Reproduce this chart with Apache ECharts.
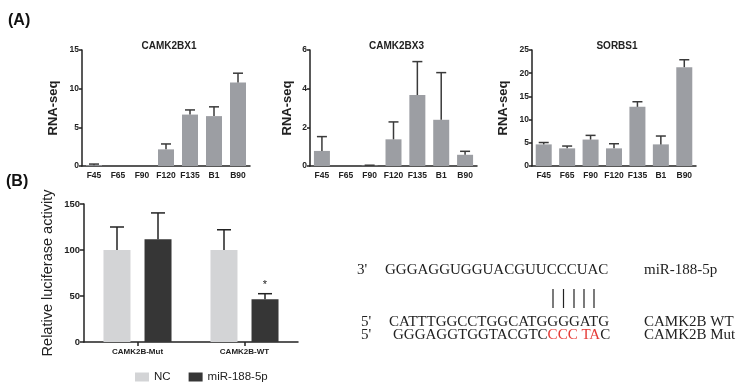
<!DOCTYPE html>
<html>
<head>
<meta charset="UTF-8">
<title>CAMK2B RNA-seq and luciferase</title>
<script src="https://cdn.jsdelivr.net/npm/echarts/dist/echarts.min.js"></script>
<style>
  html, body { margin: 0; padding: 0; background: #fff; }
  #main { width: 745px; height: 389px; }
</style>
</head>
<body>
<div id="main"></div>
<script type="text/javascript">
// ---- data ----
var samples = ['F45', 'F65', 'F90', 'F120', 'F135', 'B1', 'B90'];
var x1Mean = [0.1, 0, 0, 2.15, 6.65, 6.45, 10.8];
var x1Sd = [0.15, 0, 0, 0.7, 0.6, 1.2, 1.2];
var x3Mean = [0.78, 0, 0.02, 1.38, 3.67, 2.39, 0.58];
var x3Sd = [0.74, 0, 0.02, 0.9, 1.73, 2.44, 0.18];
var sorbsMean = [4.66, 3.8, 5.7, 3.8, 12.75, 4.66, 21.3];
var sorbsSd = [0.4, 0.5, 0.9, 1.0, 1.1, 1.8, 1.6];

var constructs = ['CAMK2B-Mut', 'CAMK2B-WT'];
var ncMean = [100, 100];
var ncSd = [25, 22];
var mirMean = [111.8, 46.5];
var mirSd = [28.5, 6];
var mirSig = ['', '*'];

var panels = [
  { title: 'CAMK2BX1', mean: x1Mean, sd: x1Sd, max: 15, step: 5, left: 82, width: 168, gap: 22 },
  { title: 'CAMK2BX3', mean: x3Mean, sd: x3Sd, max: 6, step: 2, left: 310, width: 167, gap: 16 },
  { title: 'SORBS1', mean: sorbsMean, sd: sorbsSd, max: 25, step: 5, left: 532, width: 164, gap: 22 }
];

var chart = echarts.init(document.getElementById('main'));
var sans = 'Liberation Sans, Arial, sans-serif';
var serif = 'Liberation Serif, Times New Roman, serif';
var axisCol = '#222';

function errRender(color, offset, capW, sig) {
  return function (params, api) {
    var i = api.value(0), m = api.value(1), s = api.value(2);
    var base = api.coord([i, m]);
    var top = api.coord([i, m + s]);
    var x = base[0] + offset;
    var kids = [];
    if (s > 0) {
      kids.push({ type: 'line', shape: { x1: x, y1: base[1], x2: x, y2: top[1] },
        style: { stroke: color, lineWidth: 1.5 } });
      kids.push({ type: 'line', shape: { x1: x - capW / 2, y1: top[1], x2: x + capW / 2, y2: top[1] },
        style: { stroke: color, lineWidth: 1.5 } });
    }
    if (sig && sig[i]) {
      kids.push({ type: 'text', style: { text: sig[i], x: x, y: top[1] - 3, align: 'center',
        verticalAlign: 'bottom', font: '11px ' + sans, fill: '#222' } });
    }
    return { type: 'group', children: kids };
  };
}

var grids = [], xAxes = [], yAxes = [], series = [], titles = [];

panels.forEach(function (p, k) {
  grids.push({ left: p.left, top: 50, width: p.width, height: 116 });
  titles.push({ text: p.title, left: p.left + p.width / 2 - 2, top: 36, textAlign: 'center',
    textStyle: { fontFamily: sans, fontSize: 10, fontWeight: 'bold', color: '#222' } });
  xAxes.push({ type: 'category', gridIndex: k, data: samples,
    axisLine: { lineStyle: { color: axisCol, width: 1.5 } },
    axisTick: { show: false },
    axisLabel: { fontFamily: sans, fontSize: 8.5, fontWeight: 'bold', color: '#222', margin: 5, interval: 0 } });
  yAxes.push({ type: 'value', gridIndex: k, min: 0, max: p.max, interval: p.step,
    name: 'RNA-seq', nameLocation: 'middle', nameGap: p.gap, nameRotate: 90,
    nameTextStyle: { fontFamily: sans, fontSize: 13, fontWeight: 'bold', color: '#222' },
    axisLine: { show: true, lineStyle: { color: axisCol, width: 1.5 } },
    axisTick: { show: true, length: 3, lineStyle: { color: axisCol, width: 1.5 } },
    splitLine: { show: false },
    axisLabel: { fontFamily: sans, fontSize: 8.5, fontWeight: 'bold', color: '#222', margin: 3 } });
  series.push({ type: 'bar', xAxisIndex: k, yAxisIndex: k, data: p.mean, barWidth: 16,
    itemStyle: { color: '#9c9ea3' }, silent: true });
  series.push({ type: 'custom', xAxisIndex: k, yAxisIndex: k, z: 3,
    renderItem: errRender('#3a3a3a', 0, 10),
    data: p.mean.map(function (m, i) { return [i, m, p.sd[i]]; }) });
});

// panel B
grids.push({ left: 84, top: 204, width: 214, height: 138 });
xAxes.push({ type: 'category', gridIndex: 3, data: constructs,
  axisLine: { lineStyle: { color: axisCol, width: 1.5 } },
  axisTick: { show: true, alignWithLabel: true, length: 4, lineStyle: { color: axisCol, width: 1.5 } },
  axisLabel: { fontFamily: sans, fontSize: 8, fontWeight: 'bold', color: '#222', margin: 6 } });
yAxes.push({ type: 'value', gridIndex: 3, min: 0, max: 150, interval: 50,
  name: 'Relative luciferase activity', nameLocation: 'middle', nameGap: 29, nameRotate: 90,
  nameTextStyle: { fontFamily: sans, fontSize: 14.5, color: '#222' },
  axisLine: { show: true, lineStyle: { color: axisCol, width: 1.5 } },
  axisTick: { show: true, length: 4, lineStyle: { color: axisCol, width: 1.5 } },
  splitLine: { show: false },
  axisLabel: { fontFamily: sans, fontSize: 9.5, fontWeight: 'bold', color: '#222', margin: 4 } });
series.push({ name: 'NC', type: 'bar', xAxisIndex: 3, yAxisIndex: 3, data: ncMean,
  barWidth: 27, barGap: '52%', itemStyle: { color: '#d3d4d6' } });
series.push({ name: 'miR-188-5p', type: 'bar', xAxisIndex: 3, yAxisIndex: 3, data: mirMean,
  barWidth: 27, barGap: '52%', itemStyle: { color: '#363636' } });
series.push({ type: 'custom', xAxisIndex: 3, yAxisIndex: 3, z: 3,
  renderItem: errRender('#222', -20.5, 14),
  data: ncMean.map(function (m, i) { return [i, m, ncSd[i]]; }) });
series.push({ type: 'custom', xAxisIndex: 3, yAxisIndex: 3, z: 3,
  renderItem: errRender('#222', 20.5, 14, mirSig),
  data: mirMean.map(function (m, i) { return [i, m, mirSd[i]]; }) });

// sequence alignment text
function seq(txt, x, y, rich) {
  var st = { text: txt, x: x, y: y, font: '15px ' + serif, fill: '#222', verticalAlign: 'middle' };
  if (rich) st.rich = rich;
  return { type: 'text', style: st };
}
var red = { r: { fill: '#e53935', fontSize: 15, fontFamily: serif } };
var graphics = [
  { type: 'text', style: { text: '(A)', x: 8, y: 21, font: 'bold 16px ' + sans, fill: '#111', verticalAlign: 'middle' } },
  { type: 'text', style: { text: '(B)', x: 6, y: 182, font: 'bold 16px ' + sans, fill: '#111', verticalAlign: 'middle' } },
  seq("3'", 357, 270), seq('GGGAGGUGGUACGUUCCCUAC', 385, 270), seq('miR-188-5p', 644, 270),
  seq("5'", 361, 322), seq('CATTTGGCCTGGCATGGGGATG', 389, 322), seq('CAMK2B WT', 644, 322),
  seq("5'", 361, 335), seq('GGGAGGTGGTACGTC{r|CCC TA}C', 393, 335, red), seq('CAMK2B Mut', 644, 335)
];
[553, 563.5, 574, 584, 594].forEach(function (x) {
  graphics.push({ type: 'line', shape: { x1: x, y1: 289, x2: x, y2: 308 }, style: { stroke: '#222', lineWidth: 1.2 } });
});

chart.setOption({
  backgroundColor: '#fff',
  animation: false,
  title: titles,
  grid: grids,
  xAxis: xAxes,
  yAxis: yAxes,
  series: series,
  legend: {
    data: ['NC', 'miR-188-5p'], left: 130, top: 366, icon: 'rect', itemWidth: 14, itemHeight: 9,
    itemGap: 18, textStyle: { fontFamily: sans, fontSize: 11.5, color: '#222' }
  },
  graphic: graphics
});
</script>
</body>
</html>
